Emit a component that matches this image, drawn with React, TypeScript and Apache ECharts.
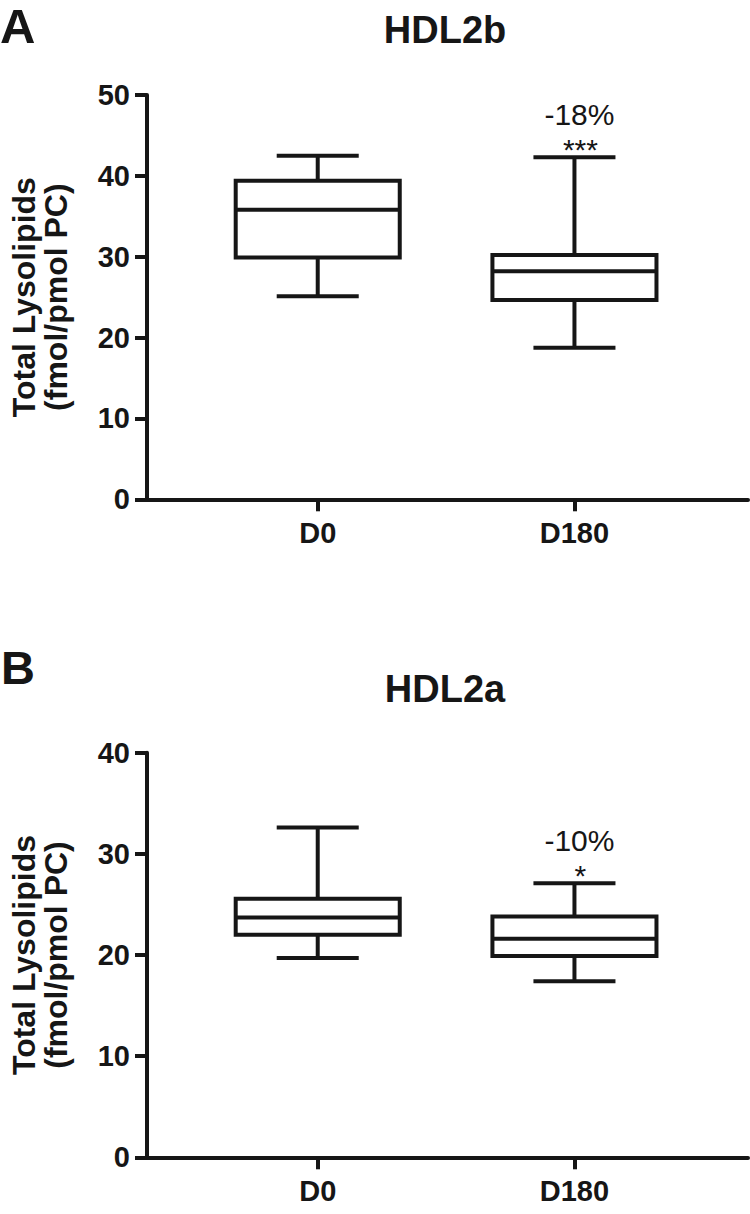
import React, { useEffect, useRef } from 'react';
import * as echarts from 'echarts';

// ---- data ----
const categories = ['D0', 'D180'];
// box values: [min, Q1, median, Q3, max]
const hdl2bD0 = [25.1, 29.9, 35.8, 39.4, 42.5];
const hdl2bD180 = [18.75, 24.65, 28.2, 30.2, 42.3];
const hdl2aD0 = [19.7, 22.0, 23.7, 25.55, 32.6];
const hdl2aD180 = [17.4, 19.9, 21.6, 23.8, 27.1];
const hdl2bChange = ['', '-18%'];
const hdl2bSig = ['', '***'];
const hdl2aChange = ['', '-10%'];
const hdl2aSig = ['', '*'];
const hdl2bYMax = 50;
const hdl2aYMax = 40;
const yInterval = 10;
const panelTitles = ['HDL2b', 'HDL2a'];
const panelLetters = ['A', 'B'];
const yAxisName = 'Total Lysolipids\n(fmol/pmol PC)';

const INK = '#161616';
const FONT = '"Liberation Sans", Arial, Helvetica, sans-serif';
const LW = 4;
const BOX_FRAC = 0.639;
const X_MIN = -0.665;
const X_MAX = 1.676;

function makeRender(changes: string[], sigs: string[]) {
  return (params: any, api: any) => {
    const x = api.value(0);
    const ys = [1, 2, 3, 4, 5].map((i) => api.coord([x, api.value(i)])[1]);
    const cx = api.coord([x, 0])[0];
    const unit = api.size([1, 0])[0];
    const hb = (unit * BOX_FRAC) / 2;
    const hc = hb / 2;
    const [yMin, yQ1, yMed, yQ3, yMax] = ys;
    const ls = { stroke: INK, lineWidth: LW, fill: null };
    const children: any[] = [
      { type: 'line', shape: { x1: cx, y1: yQ3, x2: cx, y2: yMax }, style: ls },
      { type: 'line', shape: { x1: cx, y1: yQ1, x2: cx, y2: yMin }, style: ls },
      { type: 'line', shape: { x1: cx - hc, y1: yMax, x2: cx + hc, y2: yMax }, style: ls },
      { type: 'line', shape: { x1: cx - hc, y1: yMin, x2: cx + hc, y2: yMin }, style: ls },
      {
        type: 'rect',
        shape: { x: cx - hb, y: yQ3, width: 2 * hb, height: yQ1 - yQ3 },
        style: { fill: '#ffffff', stroke: INK, lineWidth: LW },
      },
      { type: 'line', shape: { x1: cx - hb, y1: yMed, x2: cx + hb, y2: yMed }, style: ls },
    ];
    const i = params.dataIndex;
    if (changes[i]) {
      children.push({
        type: 'text',
        x: cx + 5,
        y: yMax - 43,
        style: {
          text: changes[i],
          fill: INK,
          font: `30px ${FONT}`,
          textAlign: 'center',
          textVerticalAlign: 'middle',
        },
      });
    }
    if (sigs[i]) {
      children.push({
        type: 'text',
        x: cx + 6,
        y: yMax - 8,
        style: {
          text: sigs[i],
          fill: INK,
          font: `30px ${FONT}`,
          textAlign: 'center',
          textVerticalAlign: 'middle',
        },
      });
    }
    return { type: 'group', children };
  };
}

function xAxis(gridIndex: number) {
  return {
    type: 'value',
    gridIndex,
    min: X_MIN,
    max: X_MAX,
    splitLine: { show: false },
    axisLine: { show: true, onZero: false, lineStyle: { color: INK, width: LW } },
    axisTick: {
      show: true,
      length: 12,
      lineStyle: { color: INK, width: LW },
      customValues: [0, 1],
    },
    axisLabel: {
      customValues: [0, 1],
      formatter: (v: number) => categories[Math.round(v)] ?? '',
      color: INK,
      fontFamily: FONT,
      fontWeight: 'bold',
      fontSize: 29,
      margin: 34,
      verticalAlign: 'middle',
    },
  };
}

function yAxis(gridIndex: number, max: number) {
  return {
    type: 'value',
    gridIndex,
    min: 0,
    max,
    interval: yInterval,
    splitLine: { show: false },
    axisLine: { show: true, onZero: false, lineStyle: { color: INK, width: LW } },
    axisTick: { show: true, length: 12, lineStyle: { color: INK, width: LW } },
    axisLabel: {
      color: INK,
      fontFamily: FONT,
      fontWeight: 'bold',
      fontSize: 29,
      margin: 17,
      verticalAlign: 'middle',
    },
    name: yAxisName,
    nameLocation: 'middle',
    nameRotate: 90,
    nameGap: 75,
    nameTextStyle: {
      color: INK,
      fontFamily: FONT,
      fontWeight: 'bold',
      fontSize: 32,
      lineHeight: 32,
      align: 'center',
    },
  };
}

function textEl(text: string, x: number, y: number, size: number, align: string) {
  return {
    type: 'text',
    x,
    y,
    style: {
      text,
      fill: INK,
      font: `bold ${size}px ${FONT}`,
      textAlign: align,
      textVerticalAlign: 'middle',
    },
  };
}

export default function App() {
  const ref = useRef<HTMLDivElement>(null);
  useEffect(() => {
    if (!ref.current) return;
    const chart = echarts.init(ref.current, null, { renderer: 'svg' });
    chart.setOption({
      animation: false,
      backgroundColor: '#ffffff',
      grid: [
        { left: 140, right: 2, top: 95, height: 404.3 },
        { left: 140, right: 2, top: 752.7, height: 404.6 },
      ],
      xAxis: [xAxis(0), xAxis(1)],
      yAxis: [yAxis(0, hdl2bYMax), yAxis(1, hdl2aYMax)],
      graphic: [
        textEl(panelLetters[0], 0, 25.5, 49, 'left'),
        textEl(panelTitles[0], 445, 29.5, 38, 'center'),
        textEl(panelLetters[1], 1, 667, 47, 'left'),
        textEl(panelTitles[1], 445, 688.5, 38, 'center'),
      ],
      series: [
        {
          type: 'custom',
          name: panelTitles[0],
          xAxisIndex: 0,
          yAxisIndex: 0,
          renderItem: makeRender(hdl2bChange, hdl2bSig),
          data: [
            [0, ...hdl2bD0],
            [1, ...hdl2bD180],
          ],
          encode: { x: 0, y: [1, 2, 3, 4, 5] },
        },
        {
          type: 'custom',
          name: panelTitles[1],
          xAxisIndex: 1,
          yAxisIndex: 1,
          renderItem: makeRender(hdl2aChange, hdl2aSig),
          data: [
            [0, ...hdl2aD0],
            [1, ...hdl2aD180],
          ],
          encode: { x: 0, y: [1, 2, 3, 4, 5] },
        },
      ],
    });
    return () => chart.dispose();
  }, []);
  return (
    <div
      ref={ref}
      style={{ position: 'absolute', left: 0, top: 0, width: 750, height: 1214, background: '#fff' }}
    />
  );
}
